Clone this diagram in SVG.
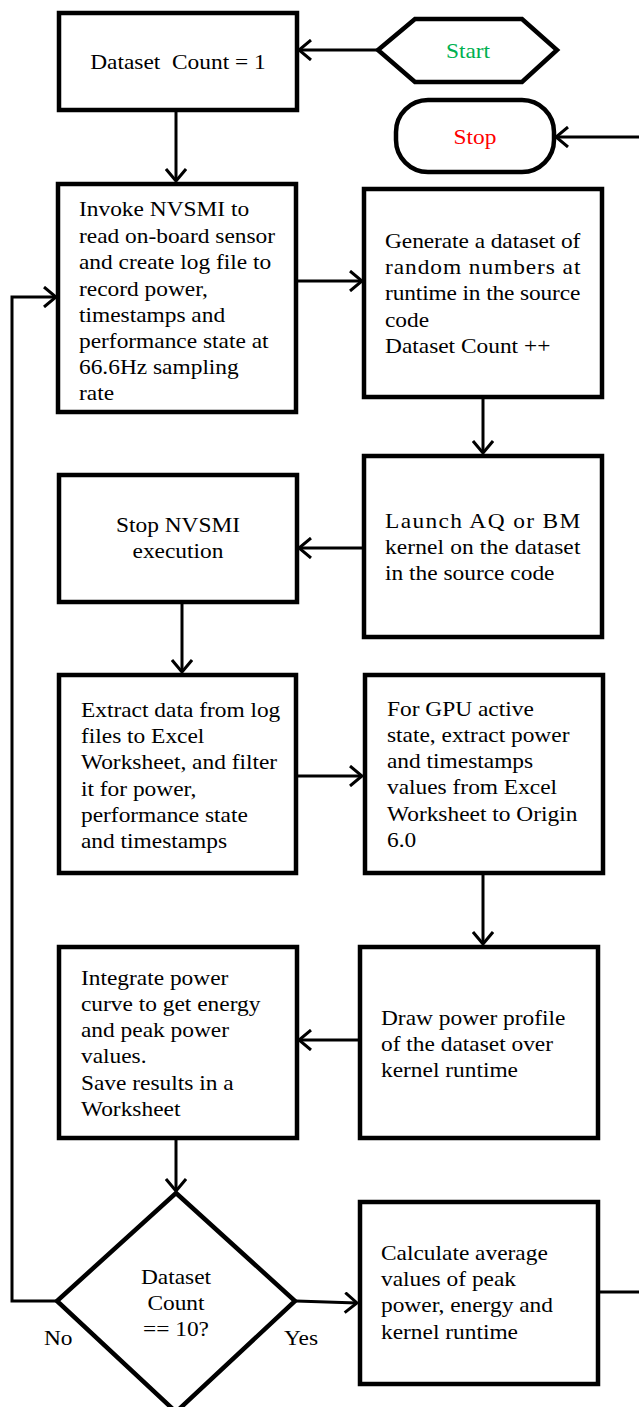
<svg xmlns="http://www.w3.org/2000/svg" width="639" height="1407" viewBox="0 0 639 1407">
<defs>
<marker id="ah" viewBox="0 0 16 22" refX="14" refY="11" markerWidth="16" markerHeight="22" markerUnits="userSpaceOnUse" orient="auto">
<path d="M2,1 L14,11 L2,21" fill="none" stroke="#000" stroke-width="3"/>
</marker>
<style>
.box{fill:#fff;stroke:#000;stroke-width:4.5}
.con{fill:none;stroke:#000;stroke-width:3}
text{font-family:"Liberation Serif","Times New Roman",serif;font-size:20px;fill:#000}
.c{text-anchor:middle}
</style>
</defs>
<g id="connectors">
<path class="con" d="M378,50 L299,50" marker-end="url(#ah)"/>
<path class="con" d="M641,137 L556,137" marker-end="url(#ah)"/>
<path class="con" d="M176,111 L176,181" marker-end="url(#ah)"/>
<path class="con" d="M297,281 L362,281" marker-end="url(#ah)"/>
<path class="con" d="M483,398 L483,453" marker-end="url(#ah)"/>
<path class="con" d="M363,548 L299,548" marker-end="url(#ah)"/>
<path class="con" d="M182,603 L182,672" marker-end="url(#ah)"/>
<path class="con" d="M297,776 L362,776" marker-end="url(#ah)"/>
<path class="con" d="M483,874 L483,944" marker-end="url(#ah)"/>
<path class="con" d="M360,1040 L299,1040" marker-end="url(#ah)"/>
<path class="con" d="M176,1140 L176,1191" marker-end="url(#ah)"/>
<path class="con" d="M57,1301 L12,1301 L12,297 L56,297" marker-end="url(#ah)"/>
<path class="con" d="M296,1301 L357,1303" marker-end="url(#ah)"/>
<path class="con" d="M598,1292 L641,1292"/>
</g>
<g id="n_count">
<rect class="box" x="59" y="13" width="238" height="97"/>
<g transform="matrix(1.17,0,0,1,-30.26,0)"><text class="c" x="178" y="69" xml:space="preserve">Dataset  Count = 1</text></g>
</g>
<g id="n_start">
<polygon class="box" points="378,50 415,19 522,19 557,50 522,82 415,82"/>
<g transform="matrix(1.17,0,0,1,-79.56,0)"><text class="c" x="468" y="58" style="fill:#00B050">Start</text></g>
</g>
<g id="n_stop">
<rect class="box" x="396" y="100" width="158" height="72" rx="32" ry="32"/>
<g transform="matrix(1.17,0,0,1,-80.75,0)"><text class="c" x="475" y="144" style="fill:#FF0000">Stop</text></g>
</g>
<g id="n_invoke">
<rect class="box" x="58" y="184" width="238" height="228"/>
<g transform="matrix(1.17,0,0,1,-13.43,0)">
<text x="79" y="216">Invoke NVSMI to</text>
<text x="79" y="243">read on-board sensor</text>
<text x="79" y="269">and create log file to</text>
<text x="79" y="296">record power,</text>
<text x="79" y="322">timestamps and</text>
<text x="79" y="348">performance state at</text>
<text x="79" y="374">66.6Hz sampling</text>
<text x="79" y="400">rate</text>
</g>
</g>
<g id="n_generate">
<rect class="box" x="364" y="189" width="238" height="208"/>
<g transform="matrix(1.17,0,0,1,-65.45,0)">
<text x="385" y="248" textLength="167" lengthAdjust="spacing">Generate a dataset of</text>
<text x="385" y="274" textLength="167" lengthAdjust="spacing">random numbers at</text>
<text x="385" y="300" textLength="167" lengthAdjust="spacing">runtime in the source</text>
<text x="385" y="327">code</text>
<text x="385" y="353">Dataset Count ++</text>
</g>
</g>
<g id="n_launch">
<rect class="box" x="364" y="456" width="238" height="181"/>
<g transform="matrix(1.17,0,0,1,-65.45,0)">
<text x="385" y="528" textLength="167" lengthAdjust="spacing">Launch AQ or BM</text>
<text x="385" y="554" textLength="167" lengthAdjust="spacing">kernel on the dataset</text>
<text x="385" y="580">in the source code</text>
</g>
</g>
<g id="n_stopnv">
<rect class="box" x="59" y="475" width="238" height="127"/>
<g transform="matrix(1.17,0,0,1,-30.26,0)">
<text class="c" x="178" y="532">Stop NVSMI</text>
<text class="c" x="178" y="558">execution</text>
</g>
</g>
<g id="n_extract">
<rect class="box" x="59" y="675" width="237" height="198"/>
<g transform="matrix(1.17,0,0,1,-13.77,0)">
<text x="81" y="717">Extract data from log</text>
<text x="81" y="743">files to Excel</text>
<text x="81" y="769">Worksheet, and filter</text>
<text x="81" y="796">it for power,</text>
<text x="81" y="822">performance state</text>
<text x="81" y="848">and timestamps</text>
</g>
</g>
<g id="n_gpu">
<rect class="box" x="365" y="675" width="238" height="198"/>
<g transform="matrix(1.17,0,0,1,-65.79,0)">
<text x="387" y="716">For GPU active</text>
<text x="387" y="742">state, extract power</text>
<text x="387" y="768">and timestamps</text>
<text x="387" y="794">values from Excel</text>
<text x="387" y="821">Worksheet to Origin</text>
<text x="387" y="847">6.0</text>
</g>
</g>
<g id="n_draw">
<rect class="box" x="360" y="947" width="238" height="191"/>
<g transform="matrix(1.17,0,0,1,-64.77,0)">
<text x="381" y="1025">Draw power profile</text>
<text x="381" y="1051">of the dataset over</text>
<text x="381" y="1077">kernel runtime</text>
</g>
</g>
<g id="n_integrate">
<rect class="box" x="59" y="947" width="238" height="191"/>
<g transform="matrix(1.17,0,0,1,-13.77,0)">
<text x="81" y="985">Integrate power</text>
<text x="81" y="1011">curve to get energy</text>
<text x="81" y="1037">and peak power</text>
<text x="81" y="1063">values.</text>
<text x="81" y="1090">Save results in a</text>
<text x="81" y="1116">Worksheet</text>
</g>
</g>
<g id="n_decision">
<polygon class="box" points="176,1193 295,1301 176,1412 57,1301"/>
<g transform="matrix(1.17,0,0,1,-29.92,0)">
<text class="c" x="176" y="1284">Dataset</text>
<text class="c" x="176" y="1310">Count</text>
<text class="c" x="176" y="1336">== 10?</text>
</g>
<g transform="matrix(1.17,0,0,1,-7.48,0)"><text x="44" y="1345">No</text></g>
<g transform="matrix(1.17,0,0,1,-48.28,0)"><text x="284" y="1345">Yes</text></g>
</g>
<g id="n_calc">
<rect class="box" x="360" y="1202" width="238" height="182"/>
<g transform="matrix(1.17,0,0,1,-64.77,0)">
<text x="381" y="1260">Calculate average</text>
<text x="381" y="1286">values of peak</text>
<text x="381" y="1312">power, energy and</text>
<text x="381" y="1339">kernel runtime</text>
</g>
</g>
</svg>
